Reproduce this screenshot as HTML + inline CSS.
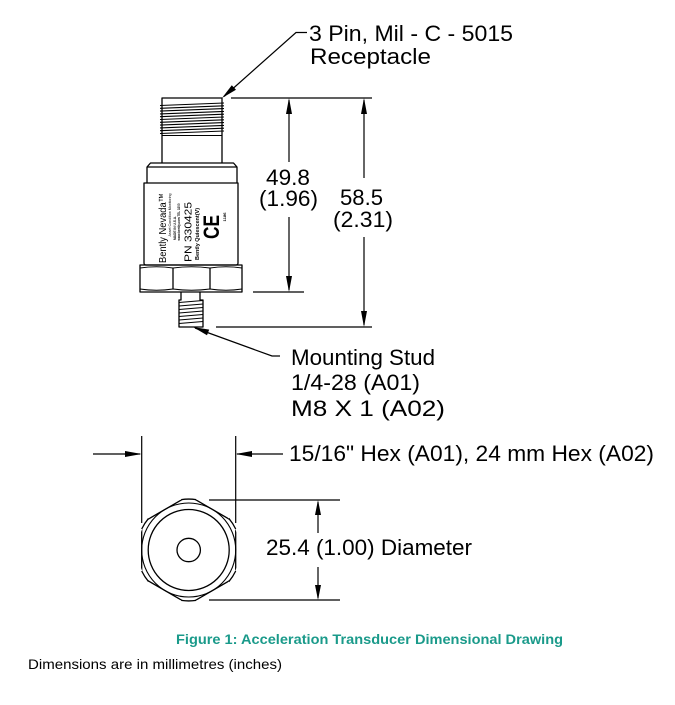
<!DOCTYPE html>
<html>
<head>
<meta charset="utf-8">
<style>
  html,body{margin:0;padding:0;background:#fff;}
  body{width:675px;height:705px;overflow:hidden;}
  svg{display:block;}
  text{font-family:"Liberation Sans", Arial, sans-serif;fill:#000;}
</style>
</head>
<body>
<svg width="675" height="705" viewBox="0 0 675 705" xmlns="http://www.w3.org/2000/svg">
  <rect width="675" height="705" fill="#fff"/>

  <!-- ============ SIDE VIEW ============ -->
  <g fill="none" stroke="#000" stroke-width="1.3" stroke-linejoin="round">
    <path d="M162,163 L162,98 L222,98 L222,163"/>
    <g stroke-width="1.1">
      <line x1="160" y1="105.5" x2="224" y2="103"/>
      <line x1="160" y1="108.3" x2="224" y2="105.8"/>
      <line x1="160" y1="111.1" x2="224" y2="108.6"/>
      <line x1="160" y1="113.9" x2="224" y2="111.4"/>
      <line x1="160" y1="116.7" x2="224" y2="114.2"/>
      <line x1="160" y1="119.5" x2="224" y2="117"/>
      <line x1="160" y1="122.3" x2="224" y2="119.8"/>
      <line x1="160" y1="125.1" x2="224" y2="122.6"/>
      <line x1="160" y1="127.9" x2="224" y2="125.4"/>
      <line x1="160" y1="130.7" x2="224" y2="128.2"/>
      <line x1="160" y1="133.5" x2="224" y2="131"/>
      <line x1="162" y1="135.5" x2="222" y2="135.5"/>
    </g>
    <path d="M147,183 L147,167 L150.5,163 L233.5,163 L237,167 L237,183"/>
    <line x1="147" y1="167" x2="237" y2="167"/>
    <path d="M144,183 L238,183 L238,263 Q238,265 236,265 L146,265 Q144,265 144,263 Z"/>
    <rect x="140" y="265" width="102" height="27"/>
    <line x1="173" y1="268" x2="173" y2="289"/>
    <line x1="210" y1="268" x2="210" y2="289"/>
    <path d="M140,268 Q156.5,265.5 173,268 Q191.5,265.5 210,268 Q226,265.5 242,268" stroke-width="1"/>
    <path d="M140,289 Q156.5,291.5 173,289 Q191.5,291.5 210,289 Q226,291.5 242,289" stroke-width="1"/>
    <path d="M181,292 L181,300 L179,300 L179,327 L203,327 L203,300 L200,300 L200,292"/>
    <g stroke-width="1.1">
      <line x1="179" y1="302.5" x2="203" y2="300.5"/>
      <line x1="179" y1="306" x2="203" y2="304"/>
      <line x1="179" y1="309.5" x2="203" y2="307.5"/>
      <line x1="179" y1="313" x2="203" y2="311"/>
      <line x1="179" y1="316.5" x2="203" y2="314.5"/>
      <line x1="179" y1="320" x2="203" y2="318"/>
      <line x1="179" y1="323.5" x2="203" y2="321.5"/>
    </g>
  </g>

  <!-- body labels (rotated) -->
  <text transform="translate(166,228) rotate(-90)" text-anchor="middle" font-size="10.5" textLength="70" lengthAdjust="spacingAndGlyphs">Bently Nevada™</text>
  <text transform="translate(171,215) rotate(-90)" text-anchor="middle" font-size="4" textLength="43" lengthAdjust="spacingAndGlyphs">Asset Condition Monitoring</text>
  <text transform="translate(176,228) rotate(-90)" text-anchor="middle" font-size="3.8" font-weight="bold" textLength="24" lengthAdjust="spacingAndGlyphs">MADE IN U.S.A.</text>
  <text transform="translate(180,222) rotate(-90)" text-anchor="middle" font-size="3.8" font-weight="bold" textLength="37" lengthAdjust="spacingAndGlyphs">www.bently.com TEL 3200</text>
  <text transform="translate(191.5,232) rotate(-90)" text-anchor="middle" font-size="10.5" textLength="60" lengthAdjust="spacingAndGlyphs">PN  330425</text>
  <text transform="translate(199,234) rotate(-90)" text-anchor="middle" font-size="5" font-weight="bold" textLength="52" lengthAdjust="spacingAndGlyphs">Bently Quiescent(V)</text>
  <text transform="translate(219,227) rotate(-90)" text-anchor="middle" font-size="22" font-weight="bold" textLength="24" lengthAdjust="spacingAndGlyphs">CE</text>
  <text transform="translate(226,217) rotate(-90)" text-anchor="middle" font-size="4" font-weight="bold" textLength="9" lengthAdjust="spacingAndGlyphs">1186</text>

  <!-- ============ SIDE VIEW DIMENSIONS ============ -->
  <g fill="none" stroke="#000" stroke-width="1.2">
    <line x1="231" y1="98" x2="372" y2="98"/>
    <line x1="253" y1="292" x2="304" y2="292"/>
    <line x1="216" y1="327" x2="372" y2="327"/>
    <line x1="289" y1="100" x2="289" y2="162"/>
    <line x1="289" y1="217" x2="289" y2="290"/>
    <line x1="364" y1="100" x2="364" y2="178"/>
    <line x1="364" y1="237" x2="364" y2="325"/>
    <polyline points="307,32.5 296,32.5 224,96.5"/>
    <polyline points="195,328 272,356 280,356"/>
  </g>
  <g fill="#000" stroke="none">
    <polygon points="289,98 286,114 292,114"/>
    <polygon points="289,292 286,276 292,276"/>
    <polygon points="364,98 361,114 367,114"/>
    <polygon points="364,327 361,311 367,311"/>
    <polygon points="222,98 236,89.8 231.8,85.3"/>
    <polygon points="193,327 207,335.3 209.2,329.6"/>
  </g>

  <text x="309" y="41" font-size="22" textLength="204" lengthAdjust="spacingAndGlyphs">3 Pin, Mil - C - 5015</text>
  <text x="310" y="64" font-size="22" textLength="121" lengthAdjust="spacingAndGlyphs">Receptacle</text>
  <text x="266" y="185" font-size="22" textLength="44" lengthAdjust="spacingAndGlyphs">49.8</text>
  <text x="259" y="206" font-size="22" textLength="59" lengthAdjust="spacingAndGlyphs">(1.96)</text>
  <text x="340" y="205" font-size="22" textLength="43" lengthAdjust="spacingAndGlyphs">58.5</text>
  <text x="333" y="227" font-size="22" textLength="60" lengthAdjust="spacingAndGlyphs">(2.31)</text>
  <text x="291" y="365" font-size="22" textLength="144" lengthAdjust="spacingAndGlyphs">Mounting Stud</text>
  <text x="291" y="390" font-size="22" textLength="129" lengthAdjust="spacingAndGlyphs">1/4-28 (A01)</text>
  <text x="291" y="416" font-size="22" textLength="154" lengthAdjust="spacingAndGlyphs">M8 X 1 (A02)</text>

  <!-- ============ BOTTOM VIEW ============ -->
  <defs>
    <clipPath id="hexclip"><circle cx="188.7" cy="550" r="51"/></clipPath>
  </defs>
  <g fill="none" stroke="#000" stroke-width="1.3">
    <polygon clip-path="url(#hexclip)" points="188.7,495.7 235.7,522.9 235.7,577.1 188.7,604.3 141.7,577.1 141.7,522.9"/>
    <path d="M196.2,499.6 A51,51 0 0 0 181.2,499.6"/>
    <path d="M181.2,600.4 A51,51 0 0 0 196.2,600.4"/>
    <path d="M228.8,518.3 A51,51 0 0 1 235.7,529" />
    <path d="M235.7,571 A51,51 0 0 1 228.8,581.7" />
    <path d="M148.6,518.3 A51,51 0 0 0 141.7,529" />
    <path d="M141.7,571 A51,51 0 0 0 148.6,581.7" />
    <circle cx="188.7" cy="550" r="47" stroke-width="1.1"/>
    <circle cx="188.7" cy="550" r="40.5"/>
    <circle cx="188.7" cy="550" r="11.7"/>
  </g>

  <g fill="none" stroke="#000" stroke-width="1.2">
    <line x1="141.7" y1="436" x2="141.7" y2="523"/>
    <line x1="235.7" y1="436" x2="235.7" y2="523"/>
    <line x1="93" y1="454" x2="140" y2="454"/>
    <line x1="237" y1="454" x2="283" y2="454"/>
    <line x1="209" y1="500" x2="340" y2="500"/>
    <line x1="209" y1="600" x2="340" y2="600"/>
    <line x1="318" y1="502" x2="318" y2="533"/>
    <line x1="318" y1="567" x2="318" y2="598"/>
  </g>
  <g fill="#000" stroke="none">
    <polygon points="141.7,454 125,451 125,457"/>
    <polygon points="235.7,454 252,451 252,457"/>
    <polygon points="318,500 315,515 321,515"/>
    <polygon points="318,600 315,585 321,585"/>
  </g>
  <text x="289" y="461" font-size="22" textLength="365" lengthAdjust="spacingAndGlyphs">15/16" Hex (A01), 24 mm Hex (A02)</text>
  <text x="266" y="555" font-size="22" textLength="206" lengthAdjust="spacingAndGlyphs">25.4 (1.00) Diameter</text>

  <!-- ============ CAPTION ============ -->
  <text x="176" y="644" font-size="14" font-weight="bold" style="fill:#1a9a8a" textLength="387" lengthAdjust="spacingAndGlyphs">Figure 1:  Acceleration Transducer Dimensional Drawing</text>
  <text x="28" y="669" font-size="14" textLength="254" lengthAdjust="spacingAndGlyphs">Dimensions are in millimetres (inches)</text>
</svg>
</body>
</html>
